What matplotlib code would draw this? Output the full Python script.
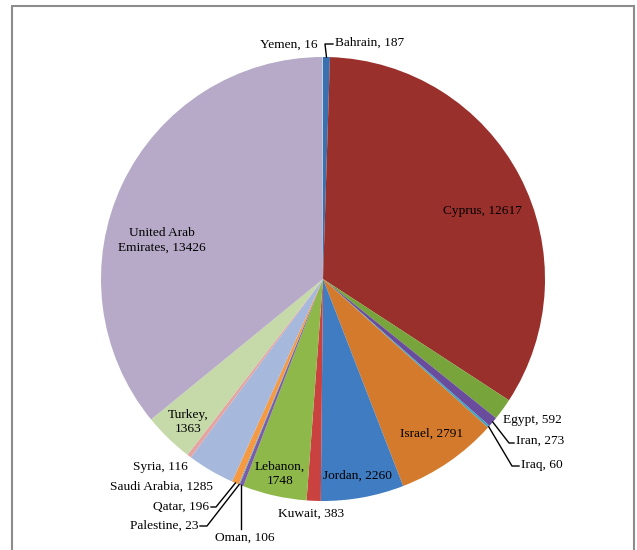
import numpy as np
import matplotlib.pyplot as plt
from matplotlib.patches import Rectangle

countries = ['Bahrain', 'Cyprus', 'Egypt', 'Iran', 'Iraq', 'Israel', 'Jordan',
             'Kuwait', 'Lebanon', 'Oman', 'Palestine', 'Qatar', 'Saudi Arabia',
             'Syria', 'Turkey', 'United Arab Emirates', 'Yemen']
values = [187, 12617, 592, 273, 60, 2791, 2260, 383, 1748, 106, 23, 196,
          1285, 116, 1363, 13426, 16]
colors = ['#3a6fb0', '#9a302c', '#77a43b', '#6a4c9c', '#3ea3c2', '#d47a2c',
          '#3f7cc2', '#c94240', '#8fb84b', '#7a5cab', '#4bacc6', '#f59a42',
          '#a6b9dc', '#e4a5a2', '#c6d9a8', '#b6aac8', '#9fd4e2']

W, H = 637, 550
fig = plt.figure(figsize=(W / 100, H / 100), dpi=100)
ax = fig.add_axes([0, 0, 1, 1])

cx, cy, R = 323, H - 279, 222
wedges, _ = ax.pie(values, colors=colors, startangle=90, counterclock=False,
                   center=(cx, cy), radius=R, frame=True,
                   wedgeprops=dict(linewidth=0))
ax.set_xlim(0, W)
ax.set_ylim(0, H)
ax.axis('off')

font = dict(family='Liberation Serif', fontsize=9.6, color='black')


def edge_point(i):
    w = wedges[i]
    a = np.deg2rad((w.theta1 + w.theta2) / 2)
    return cx + R * np.cos(a), cy + R * np.sin(a)


def lab(i):
    return f'{countries[i]}, {values[i]}'


# labels inside the slices (pixel positions from top-left)
inside = {1: (482, 211, 'Cyprus, 12617'),
          5: (432, 434, 'Israel, 2791'),
          6: (357, 476, 'Jordan, 2260'),
          8: (280, 474, 'Lebanon,\n1748'),
          14: (188, 422, 'Turkey,\n1363'),
          15: (162, 240, 'United Arab\nEmirates, 13426')}
for i, (x, y, t) in inside.items():
    ax.text(x, H - y, t, ha='center', va='center', linespacing=1.3, **font)

# outside labels without leader lines
plain = {2: (503, 420, 'left'), 7: (311, 514, 'center'),
         12: (162, 487, 'center'), 13: (160, 467, 'center')}
for i, (x, y, ha) in plain.items():
    ax.text(x, H - y, lab(i), ha=ha, va='center', **font)

# outside labels with leader lines: (elbow, text anchor, alignment)
leaders = {0: ((325, 44), (335, 43), 'left'),
           16: (None, (318, 45), 'right'),
           3: ((509, 443), (516, 441), 'left'),
           4: ((512, 466), (521, 465), 'left'),
           9: ((242, 529), (245, 538), 'center'),
           10: ((207, 526), (198, 526), 'right'),
           11: ((216, 507), (209, 507), 'right')}
for i, (elbow, txt, ha) in leaders.items():
    tx, ty = txt
    if elbow is not None:
        x0, y0 = edge_point(i)
        ex, ey = elbow[0], H - elbow[1]
        if i == 9:
            ax.plot([x0, x0], [y0, ey], color='black', lw=1)
        else:
            endx = tx - 2 if ha == 'left' else tx + 2
            ax.plot([x0, ex, endx], [y0, ey, ey], color='black', lw=1)
    ax.text(tx, H - ty, lab(i), ha=ha, va='center', **font)

fig.patches.append(Rectangle((11.5 / W, -0.01), (633.5 - 11.5) / W, 1 - 5.5 / H + 0.01,
                             transform=fig.transFigure, fill=False,
                             edgecolor='#8c8c8c', linewidth=1.5))

fig.savefig('out.png', dpi=100)
